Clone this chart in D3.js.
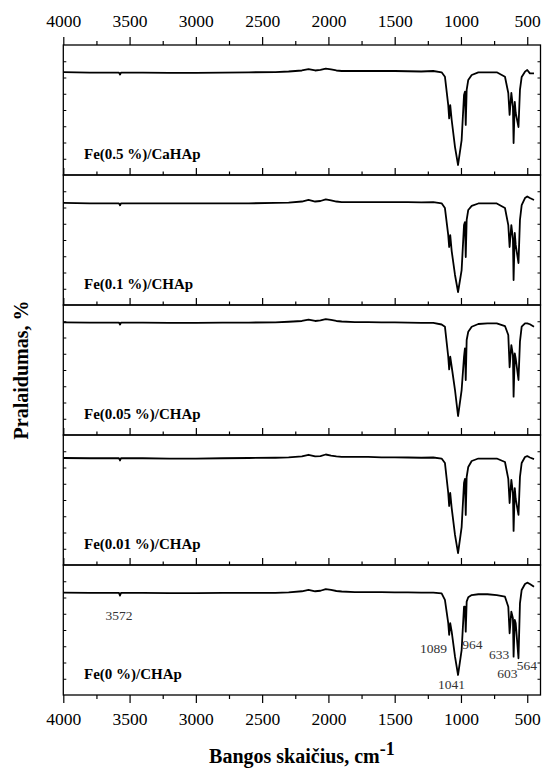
<!DOCTYPE html>
<html><head><meta charset="utf-8">
<script src="https://cdn.jsdelivr.net/npm/d3@7"></script>
<style>body{margin:0;background:#fff} svg{display:block;font-family:"Liberation Serif","Times New Roman",serif}</style>
</head><body>
<script>
// ---- data ----
const wavenumbers = [4000,3800,3600,3580,3572,3565,3400,3200,3000,2800,2600,2400,2300,2200,2150,2100,2060,2020,1980,1940,1900,1800,1700,1600,1500,1400,1300,1209,1146,1121,1096,1089,1081,1070,1045,1022,995,977,970,964,957,945,919,869,800,730,668,643,633,620,608,603,594,587,566,555,542,517,500,480,449];

const panelNames = ["Fe(0.5 %)/CaHAp","Fe(0.1 %)/CHAp","Fe(0.05 %)/CHAp","Fe(0.01 %)/CHAp","Fe(0 %)/CHAp"];

const t_fe05 = [79.2,78.8,78.8,78.8,77.3,78.8, 78.8,78.6,78.6,78.8,79.0,79.2, 79.6,80.4,81.5,80.4,80.8,81.9, 81.2,80.4,80.0,80.0,80.0,80.0, 80.0,79.8,79.6,80.0,79.0,75.6, 53.8,43.6,53.8,42.3,21.5,7.7, 26.9,61.5,64.1,38.5,65.4,73.1, 76.9,79.0,79.0,79.0,75.6,63.1, 46.2,63.1,52.3,24.6,56.2,47.7, 36.9,65.4,75.4,79.5,80.8,78.2, 78.2];
const t_fe01 = [78.5,78.2,78.2,78.2,76.7,78.2, 78.2,78.1,78.1,78.1,78.2,78.5, 78.8,79.6,80.8,79.6,80.0,81.2, 80.4,79.6,79.2,79.2,79.2,79.2, 79.2,79.2,79.0,79.2,78.2,74.6, 53.8,44.6,53.8,41.5,23.1,10.0, 26.9,61.5,63.8,36.9,65.4,73.1, 76.2,78.1,78.1,78.1,74.6,61.5, 44.6,61.5,50.8,19.2,55.4,46.2, 32.3,65.4,76.9,82.3,83.5,82.3, 80.8];
const t_fe005 = [86.7,86.5,86.5,86.5,85.0,86.5, 86.5,86.3,86.3,86.5,86.5,86.7, 87.1,87.7,88.8,87.7,88.1,89.2, 88.5,87.7,87.3,86.9,86.9,86.7, 86.7,86.5,86.3,86.2,85.0,83.3, 60.2,50.5,60.2,52.5,34.6,14.6, 34.6,60.2,66.7,42.3,73.1,79.5, 83.3,85.4,85.9,85.9,83.8,76.9, 52.1,69.2,61.5,29.5,62.8,59.0, 42.3,71.8,83.3,85.9,85.9,85.2, 83.3];
const t_fe001 = [82.3,82.1,82.1,82.1,80.4,82.1, 82.1,81.9,81.9,82.1,82.3,82.5, 82.8,83.6,84.8,83.6,83.8,85.0, 84.2,83.5,83.1,83.1,83.1,82.8, 82.8,82.7,82.5,82.7,81.9,78.5, 55.4,45.4,55.4,43.8,23.1,9.2, 29.2,63.1,66.2,38.5,67.7,75.4, 80.0,81.9,81.9,81.9,79.2,66.2, 47.7,65.4,55.4,26.2,59.2,50.8, 38.5,67.7,78.5,83.1,83.8,82.7, 81.5];
const t_fe0 = [78.8,78.6,78.5,78.5,76.5,78.5, 78.5,78.3,78.3,78.5,78.5,78.6, 79.0,79.8,80.8,79.8,80.2,81.5, 80.8,80.0,79.6,79.2,79.2,79.2, 79.0,79.0,78.8,78.8,78.2,73.1, 55.2,46.2,55.2,48.7,29.5,15.4, 34.6,67.9,67.9,48.7,71.8,75.2, 76.9,77.5,77.5,76.9,75.6,67.9, 47.5,64.1,59.0,29.5,57.7,55.2, 28.2,70.5,80.8,85.4,86.4,85.4, 83.3];

const series = [t_fe05, t_fe01, t_fe005, t_fe001, t_fe0];

const xMajorTicks = [4000,3500,3000,2500,2000,1500,1000,500];
const xMinorTicks = [3750,3250,2750,2250,1750,1250,750];
const yTicks = [12.5,25,37.5,50,62.5,75,87.5];

// peak labels in the bottom panel: [text, wavenumber anchor, value anchor]
const peakLabels = [["3572",3580,57.7],["1089",1208,32.3],["964",913,35.4],["633",713,27.7],["603",649,13.1],["564",502,19.2],["1041",1072,4.6]];

// ---- layout ----
const W = 543, H = 778;
const mLeft = 63.3, mRight = 540.5, mTop = 45, panelH = 130;
const nP = series.length;
const mBottom = mTop + nP * panelH;

const svg = d3.select("body").append("svg").attr("width", W).attr("height", H);

const x = d3.scaleLinear().domain([4000, 400]).range([mLeft, mRight]);

series.forEach((vals, i) => {
  const y0 = mTop + i * panelH, y1 = y0 + panelH;
  const y = d3.scaleLinear().domain([0, 100]).range([y1, y0]);
  const g = svg.append("g");

  const line = d3.line().x(d => x(d[0])).y(d => y(d[1]));
  g.append("path")
    .datum(wavenumbers.map((w, k) => [w, vals[k]]))
    .attr("d", line)
    .attr("fill", "none").attr("stroke", "#000").attr("stroke-width", 1.8)
    .attr("stroke-linejoin", "round");

  const yl = g.append("g").attr("transform", `translate(${mLeft},0)`)
    .call(d3.axisRight(y).tickValues(yTicks).tickSize(3).tickFormat(""));
  const yr = g.append("g").attr("transform", `translate(${mRight},0)`)
    .call(d3.axisLeft(y).tickValues(yTicks).tickSize(3).tickFormat(""));
  [yl, yr].forEach(a => { a.select(".domain").remove(); a.selectAll("line").attr("stroke-width", 1); });

  if (i < nP - 1) {
    const a1 = g.append("g").attr("transform", `translate(0,${y1})`)
      .call(d3.axisTop(x).tickValues(xMajorTicks).tickSize(7).tickFormat(""));
    const a2 = g.append("g").attr("transform", `translate(0,${y1})`)
      .call(d3.axisTop(x).tickValues(xMinorTicks).tickSize(3.5).tickFormat(""));
    [a1, a2].forEach(a => { a.select(".domain").remove(); a.selectAll("line").attr("stroke-width", 1.2); });
  }

  g.append("rect").attr("x", mLeft).attr("y", y0).attr("width", mRight - mLeft).attr("height", panelH)
    .attr("fill", "none").attr("stroke", "#000").attr("stroke-width", 1.3);

  g.append("text").attr("x", 84).attr("y", y1 - 16)
    .attr("font-size", 15).attr("font-weight", "bold").attr("fill", "#000")
    .text(panelNames[i]);

  if (i === nP - 1) {
    peakLabels.forEach(p => {
      g.append("text").attr("x", x(p[1])).attr("y", y(p[2]))
        .attr("text-anchor", "middle").attr("font-size", 13.5).attr("fill", "#333")
        .text(p[0]);
    });
  }
});

function styleAxis(a, fs) {
  a.select(".domain").remove();
  a.selectAll("line").attr("stroke-width", 1.2);
  a.selectAll("text").attr("font-size", fs).attr("fill", "#000").attr("font-family", '"Liberation Serif","Times New Roman",serif');
}
const fmt = d3.format("d");
const ta = svg.append("g").attr("transform", `translate(0,${mTop})`)
  .call(d3.axisTop(x).tickValues(xMajorTicks).tickSize(8).tickPadding(10).tickFormat(fmt));
styleAxis(ta, 17.5);
const ta2 = svg.append("g").attr("transform", `translate(0,${mTop})`)
  .call(d3.axisTop(x).tickValues(xMinorTicks).tickSize(4).tickFormat(""));
styleAxis(ta2, 17.5);

const ba = svg.append("g").attr("transform", `translate(0,${mBottom})`)
  .call(d3.axisBottom(x).tickValues(xMajorTicks).tickSize(8).tickPadding(9.5).tickFormat(fmt));
styleAxis(ba, 17.5);
const ba2 = svg.append("g").attr("transform", `translate(0,${mBottom})`)
  .call(d3.axisBottom(x).tickValues(xMinorTicks).tickSize(4).tickFormat(""));
styleAxis(ba2, 17.5);

const xt = svg.append("text").attr("x", (mLeft + mRight) / 2).attr("y", 763)
  .attr("text-anchor", "middle").attr("font-size", 20).attr("font-weight", "bold");
xt.append("tspan").text("Bangos skaičius, cm");
xt.append("tspan").attr("font-size", 18).attr("dy", "-0.45em").text("-1");

svg.append("text").attr("transform", `translate(28,${(mTop + mBottom) / 2}) rotate(-90)`)
  .attr("text-anchor", "middle").attr("font-size", 20).attr("font-weight", "bold")
  .text("Pralaidumas, %");
</script>
</body></html>
